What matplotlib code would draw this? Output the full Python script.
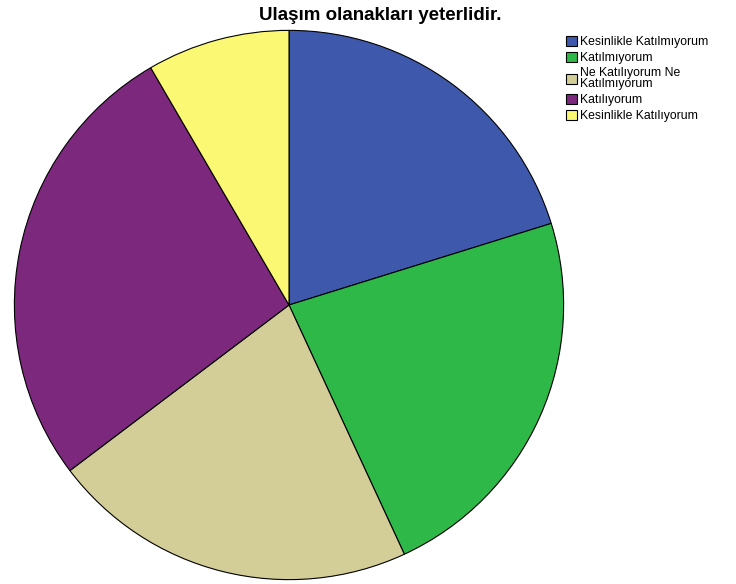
import matplotlib
matplotlib.use('Agg')
import matplotlib.pyplot as plt

# Response categories and percentage shares
labels = ['Kesinlikle Katılmıyorum', 'Katılmıyorum', 'Ne Katılıyorum Ne\nKatılmıyorum',
          'Katılıyorum', 'Kesinlikle Katılıyorum']
shares = [20.2, 22.9, 21.6, 26.9, 8.4]
colors = ['#3E58AC', '#2EB848', '#D3CE97', '#7C287D', '#FBF873']
title = 'Ulaşım olanakları yeterlidir.'

plt.rcParams['font.family'] = ['Liberation Sans', 'DejaVu Sans']

fig = plt.figure(figsize=(7.36, 5.84), dpi=100)
ax = fig.add_axes([13 / 736, 3 / 584, 552 / 736, 552 / 584])
wedges, _ = ax.pie(shares, colors=colors, startangle=90, counterclock=False,
                   wedgeprops=dict(edgecolor='black', linewidth=0.8))
ax.set_xlim(-1.005, 1.005)
ax.set_ylim(-1.005, 1.005)
ax.set_aspect('equal')
ax.axis('off')

fig.text(380 / 736, 1 - 15 / 584, title, ha='center', va='center',
         fontsize=13.5, fontweight='bold')

leg = fig.legend(wedges, labels, loc='upper left', bbox_to_anchor=(557 / 736, 1 - 27 / 584),
                 frameon=False, fontsize=8.8, handlelength=0.9, handleheight=0.9,
                 handletextpad=0.25, labelspacing=0.3, borderpad=0.2)
for t in leg.get_texts():
    t.set_linespacing(0.85)

fig.savefig('out.png', dpi=100)
